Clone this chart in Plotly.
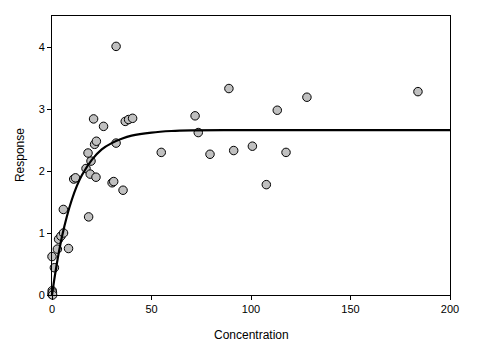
import plotly.graph_objects as go

# Observed concentration / response pairs
concentration = [
    0.0, 0.1, 0.2, 0.3, 0.0, 1.2, 2.7, 3.3, 4.5, 5.8, 8.3, 5.7,
    10.9, 11.8, 18.4, 17.1, 19.2, 22.1, 30.2, 31.0, 35.7, 19.6, 18.1,
    21.4, 22.3, 32.2, 20.9, 25.9, 36.8, 38.5, 40.5, 32.2, 54.9,
    71.9, 73.5, 79.4, 88.9, 91.3, 100.7, 107.7, 113.2, 117.6, 128.1, 183.9,
]
response = [
    0.01, 0.07, 0.04, 0.00, 0.62, 0.44, 0.74, 0.90, 0.95, 1.00, 0.75, 1.38,
    1.87, 1.89, 1.26, 2.04, 1.95, 1.90, 1.81, 1.83, 1.69, 2.16, 2.29,
    2.43, 2.48, 2.45, 2.84, 2.72, 2.80, 2.83, 2.85, 4.01, 2.30,
    2.89, 2.62, 2.27, 3.33, 2.33, 2.40, 1.78, 2.98, 2.30, 3.19, 3.28,
]

# Fitted saturation curve, sampled along the concentration axis
curve_x = [0, 1, 2, 3, 5, 7.5, 10, 12.5, 15, 20, 25, 30, 35, 40, 50, 60, 70, 100, 200]
curve_y = [0, 0.22, 0.42, 0.61, 0.94, 1.27, 1.54, 1.76, 1.93, 2.18, 2.35, 2.45,
           2.52, 2.57, 2.62, 2.645, 2.655, 2.66, 2.66]

x_ticks = [0, 50, 100, 150, 200]
y_ticks = [0, 1, 2, 3, 4]
x_title = "Concentration"
y_title = "Response"

FONT = "Liberation Sans, Arial, sans-serif"

fig = go.Figure()
fig.add_trace(go.Scatter(
    x=concentration, y=response, mode="markers",
    marker=dict(size=8.5, color="#c0c0c0", line=dict(color="black", width=1)),
    cliponaxis=False, showlegend=False,
))
fig.add_trace(go.Scatter(
    x=curve_x, y=curve_y, mode="lines",
    line=dict(color="black", width=2.2, shape="spline", smoothing=0.6),
    showlegend=False,
))

axis_style = dict(
    showline=True, linecolor="black", linewidth=1, mirror=True,
    ticks="outside", ticklen=4, tickcolor="black", tickwidth=1,
    showgrid=False, zeroline=False, automargin=False,
    tickfont=dict(family=FONT, size=11, color="black"),
)

fig.update_layout(
    width=479, height=349,
    margin=dict(l=52, r=29, t=16, b=54),
    paper_bgcolor="white", plot_bgcolor="white",
    font=dict(family=FONT, size=12, color="black"),
    xaxis=dict(range=[0, 200], tickvals=x_ticks, **axis_style),
    yaxis=dict(range=[0, 4.5], tickvals=y_ticks, **axis_style),
    annotations=[
        dict(text=x_title, xref="paper", yref="paper", x=0.502, y=-0.143,
             xanchor="center", yanchor="middle", showarrow=False,
             font=dict(family=FONT, size=12, color="black")),
        dict(text=y_title, xref="paper", yref="paper", x=-0.08, y=0.502,
             xanchor="center", yanchor="middle", showarrow=False, textangle=-90,
             font=dict(family=FONT, size=12, color="black")),
    ],
)

fig.write_html("out.html")
